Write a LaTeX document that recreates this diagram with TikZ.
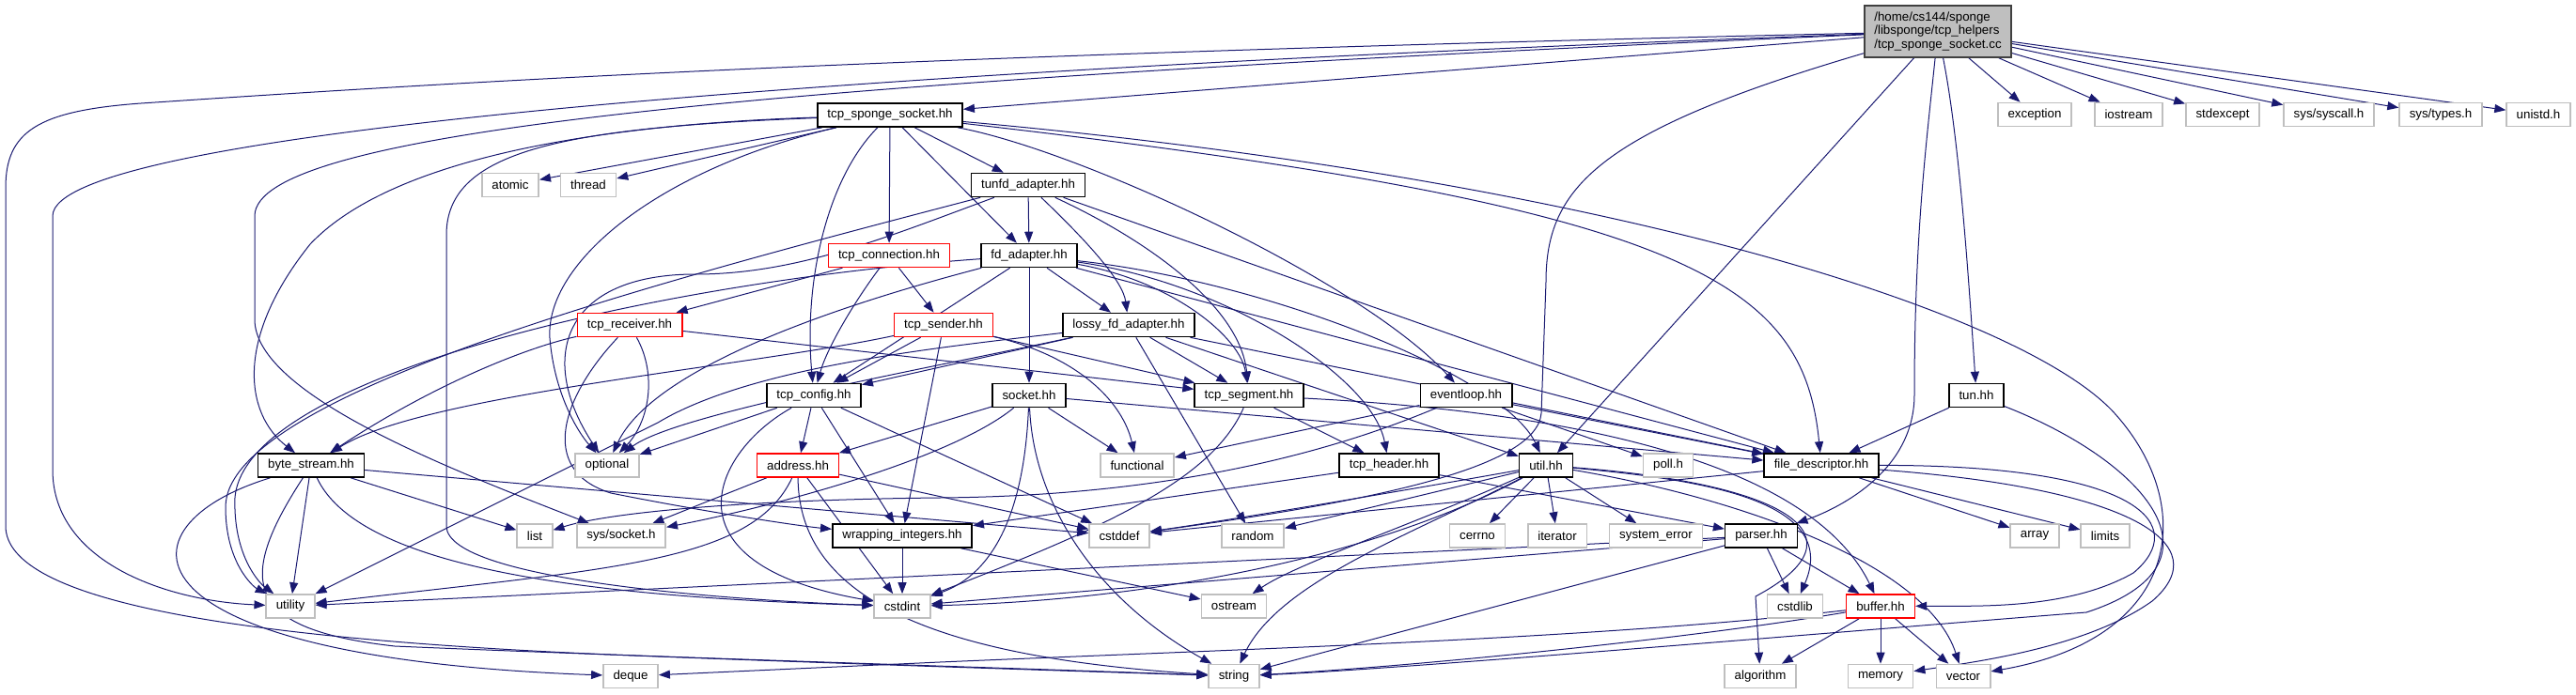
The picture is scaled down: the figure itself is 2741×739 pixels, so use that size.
\documentclass[tikz,border=0pt]{standalone}
\usepackage{fontspec}
\setmainfont{Liberation Sans}
\usepackage{xcolor}
\usepackage{tikz}
\usetikzlibrary{arrows.meta,backgrounds}
\definecolor{edgeblue}{HTML}{191970}

\begin{document}
\begin{tikzpicture}[
  x=0.5pt, y=-0.5pt,
  font=\fontsize{6.65}{7.15}\selectfont,
  >={Triangle[length=6pt,width=4.5pt]},
  file/.style={draw, fill=white, line width=0.8pt, inner xsep=5.3pt, inner ysep=1pt, minimum height=12.5pt},
  hdr/.style={file, draw=black},
  sys/.style={file, draw=lightgray},
  cut/.style={file, draw=red},
  root/.style={file, fill=lightgray, draw=black!75, align=left, inner ysep=3pt, minimum height=27.5pt},
  arr/.style={->, draw=edgeblue, line width=0.5pt}
]
\useasboundingbox (0,0) rectangle (2741,739);
\node[root] (cc) at (2062,33.5) {/home/cs144/sponge\\/libsponge/tcp\_helpers\\/tcp\_sponge\_socket.cc};
\node[hdr] (tss) at (947,122.5) {tcp\_sponge\_socket.hh};
\node[sys] (exc) at (2165,122) {exception};
\node[sys] (ios) at (2265,122) {iostream};
\node[sys] (stdexc) at (2365,122) {stdexcept};
\node[sys] (syscall) at (2478,122) {sys/syscall.h};
\node[sys] (systypes) at (2597,122) {sys/types.h};
\node[sys] (unistd) at (2701,122) {unistd.h};
\node[sys] (atomic) at (543,197) {atomic};
\node[sys] (thread) at (626,197) {thread};
\node[hdr] (tunfd) at (1094,197) {tunfd\_adapter.hh};
\node[cut] (tcpconn) at (946,272) {tcp\_connection.hh};
\node[hdr] (fdad) at (1095,272) {fd\_adapter.hh};
\node[cut] (tcprecv) at (670,346) {tcp\_receiver.hh};
\node[cut] (tcpsend) at (1004,346) {tcp\_sender.hh};
\node[hdr] (lossy) at (1201,346) {lossy\_fd\_adapter.hh};
\node[hdr] (tcpconf) at (866,421) {tcp\_config.hh};
\node[hdr] (sock) at (1095,421) {socket.hh};
\node[hdr] (tcpseg) at (1329,421) {tcp\_segment.hh};
\node[hdr] (evloop) at (1560,421) {eventloop.hh};
\node[hdr] (tun) at (2103,421) {tun.hh};
\node[hdr] (bstream) at (331,495.5) {byte\_stream.hh};
\node[sys] (optional) at (646,495.5) {optional};
\node[cut] (addr) at (849,495.5) {address.hh};
\node[sys] (functional) at (1210,495.5) {functional};
\node[hdr] (tcphdr) at (1478,495.5) {tcp\_header.hh};
\node[hdr] (util) at (1645,495.5) {util.hh};
\node[sys] (pollh) at (1775,495.5) {poll.h};
\node[hdr] (fdesc) at (1938,495.5) {file\_descriptor.hh};
\node[sys] (list) at (569,570.5) {list};
\node[sys] (syssock) at (661,570.5) {sys/socket.h};
\node[hdr] (wrapint) at (960,570.5) {wrapping\_integers.hh};
\node[sys] (cstddef) at (1191,570.5) {cstddef};
\node[sys] (random) at (1333,570.5) {random};
\node[sys] (cerrno) at (1572,570.5) {cerrno};
\node[sys] (iterator) at (1657,570.5) {iterator};
\node[sys] (syserr) at (1762,570.5) {system\_error};
\node[hdr] (parser) at (1874,570.5) {parser.hh};
\node[sys] (array) at (2165,570.5) {array};
\node[sys] (limits) at (2240,570.5) {limits};
\node[sys] (utility) at (309,645.5) {utility};
\node[sys] (cstdint) at (960,645.5) {cstdint};
\node[sys] (ostream) at (1313,645.5) {ostream};
\node[sys] (cstdlib) at (1910,645.5) {cstdlib};
\node[cut] (buffer) at (2001,645.5) {buffer.hh};
\node[sys] (deque) at (671,720) {deque};
\node[sys] (string) at (1313,720) {string};
\node[sys] (algorithm) at (1873,720) {algorithm};
\node[sys] (memory) at (2001,720) {memory};
\node[sys] (vector) at (2089,720) {vector};
\begin{scope}[on background layer]
\draw[arr] (cc) -- (tss);
\draw[arr] (cc) .. controls (900,60) and (450,90) .. (150,110) .. controls (40,118) and (6,140) .. (6,200) -- (6,560) .. controls (6,640) and (250,680) .. (650,697) .. controls (900,707) and (1100,713) .. (string);
\draw[arr] (cc) .. controls (900,75) and (56,140) .. (56,230) -- (56,500) .. controls (56,600) and (180,640) .. (utility);
\draw[arr] (cc) .. controls (800,88) and (271,140) .. (271,230) -- (271,340) .. controls (271,420) and (480,500) .. (syssock);
\draw[arr] (cc) .. controls (1700,140) and (1645,200) .. (1645,300) -- (1640,440) .. controls (1635,500) and (1450,535) .. (cstddef);
\draw[arr] (cc) -- (util);
\draw[arr] (cc) .. controls (2050,150) and (2037,250) .. (2037,420) .. controls (2037,500) and (1960,540) .. (parser);
\draw[arr] (cc) .. controls (2085,150) and (2095,300) .. (tun);
\draw[arr] (cc) -- (exc);
\draw[arr] (cc) -- (ios);
\draw[arr] (cc) -- (stdexc);
\draw[arr] (cc) -- (syscall);
\draw[arr] (cc) -- (systypes);
\draw[arr] (cc) -- (unistd);
\draw[arr] (tss) -- (atomic);
\draw[arr] (tss) -- (thread);
\draw[arr] (tss) -- (tunfd);
\draw[arr] (tss) -- (tcpconn);
\draw[arr] (tss) -- (fdad);
\draw[arr] (tss) .. controls (1150,160) and (1450,300) .. (evloop);
\draw[arr] (tss) .. controls (1800,220) and (1919,300) .. (fdesc);
\draw[arr] (tss) .. controls (1700,190) and (2150,330) .. (2250,440) .. controls (2340,540) and (2320,680) .. (vector);
\draw[arr] (tss) .. controls (650,132) and (420,165) .. (330,260) .. controls (250,360) and (260,440) .. (bstream);
\draw[arr] (tss) .. controls (600,136) and (475,160) .. (475,250) -- (475,560) .. controls (475,620) and (800,640) .. (cstdint);
\draw[arr] (tss) .. controls (700,180) and (580,280) .. (585,360) .. controls (590,420) and (615,460) .. (optional);
\draw[arr] (tss) .. controls (880,190) and (855,300) .. (tcpconf);
\draw[arr] (tunfd) -- (fdad);
\draw[arr] (tunfd) .. controls (1160,260) and (1195,300) .. (lossy);
\draw[arr] (tunfd) .. controls (1230,260) and (1320,330) .. (tcpseg);
\draw[arr] (tunfd) -- (fdesc);
\draw[arr] (tunfd) .. controls (700,300) and (240,420) .. (240,540) .. controls (240,600) and (270,625) .. (utility);
\draw[arr] (tunfd) .. controls (950,250) and (850,292) .. (740,292) .. controls (600,292) and (570,380) .. (optional);
\draw[arr] (tcpconn) -- (tcprecv);
\draw[arr] (tcpconn) -- (tcpsend);
\draw[arr] (tcpconn) .. controls (910,320) and (880,370) .. (tcpconf);
\draw[arr] (fdad) -- (lossy);
\draw[arr] (fdad) -- (sock);
\draw[arr] (fdad) -- (tcpconf);
\draw[arr] (fdad) .. controls (1250,300) and (1320,360) .. (tcpseg);
\draw[arr] (fdad) .. controls (1300,300) and (1460,400) .. (tcphdr);
\draw[arr] (fdad) .. controls (1350,300) and (1600,400) .. (util);
\draw[arr] (fdad) -- (fdesc);
\draw[arr] (fdad) .. controls (950,310) and (700,380) .. (optional);
\draw[arr] (fdad) .. controls (700,300) and (260,400) .. (250,530) .. controls (248,590) and (275,620) .. (utility);
\draw[arr] (tcprecv) .. controls (560,370) and (460,410) .. (bstream);
\draw[arr] (tcprecv) -- (tcpseg);
\draw[arr] (tcprecv) .. controls (700,400) and (690,450) .. (optional);
\draw[arr] (tcprecv) .. controls (600,420) and (570,500) .. (650,525) .. controls (750,545) and (850,560) .. (wrapint);
\draw[arr] (tcpsend) .. controls (800,390) and (450,420) .. (bstream);
\draw[arr] (tcpsend) -- (tcpconf);
\draw[arr] (tcpsend) -- (tcpseg);
\draw[arr] (tcpsend) -- (wrapint);
\draw[arr] (tcpsend) .. controls (1150,380) and (1195,430) .. (functional);
\draw[arr] (lossy) -- (tcpconf);
\draw[arr] (lossy) -- (tcpseg);
\draw[arr] (lossy) -- (random);
\draw[arr] (lossy) -- (util);
\draw[arr] (lossy) -- (fdesc);
\draw[arr] (lossy) .. controls (1000,390) and (720,440) .. (optional);
\draw[arr] (lossy) .. controls (1000,370) and (800,390) .. (700,450) -- (utility);
\draw[arr] (tcpconf) -- (optional);
\draw[arr] (tcpconf) -- (addr);
\draw[arr] (tcpconf) -- (wrapint);
\draw[arr] (tcpconf) -- (cstddef);
\draw[arr] (tcpconf) .. controls (760,480) and (700,600) .. (cstdint);
\draw[arr] (sock) -- (addr);
\draw[arr] (sock) -- (functional);
\draw[arr] (sock) -- (fdesc);
\draw[arr] (sock) .. controls (1090,540) and (1060,610) .. (cstdint);
\draw[arr] (sock) .. controls (1100,540) and (1170,640) .. (string);
\draw[arr] (sock) .. controls (1010,490) and (820,540) .. (syssock);
\draw[arr] (tcpseg) -- (tcphdr);
\draw[arr] (tcpseg) .. controls (1700,440) and (1930,500) .. (buffer);
\draw[arr] (tcpseg) .. controls (1290,510) and (1180,560) .. (cstdint);
\draw[arr] (evloop) -- (functional);
\draw[arr] (evloop) .. controls (1420,480) and (1250,528) .. (1000,530) .. controls (800,532) and (650,545) .. (list);
\draw[arr] (evloop) -- (pollh);
\draw[arr] (evloop) -- (fdesc);
\draw[arr] (tun) -- (fdesc);
\draw[arr] (tun) .. controls (2280,490) and (2380,600) .. (2220,652) .. controls (2050,665) and (1500,712) .. (string);
\draw[arr] (bstream) .. controls (120,560) and (120,700) .. (deque);
\draw[arr] (bstream) -- (utility);
\draw[arr] (bstream) .. controls (250,620) and (260,670) .. (420,688) .. controls (700,700) and (1100,712) .. (string);
\draw[arr] (bstream) .. controls (380,600) and (600,635) .. (cstdint);
\draw[arr] (bstream) -- (list);
\draw[arr] (bstream) -- (cstddef);
\draw[arr] (addr) -- (syssock);
\draw[arr] (addr) .. controls (800,600) and (650,605) .. (utility);
\draw[arr] (addr) -- (cstdint);
\draw[arr] (addr) .. controls (850,640) and (1000,700) .. (string);
\draw[arr] (addr) -- (cstddef);
\draw[arr] (tcphdr) -- (parser);
\draw[arr] (tcphdr) -- (wrapint);
\draw[arr] (util) .. controls (1450,530) and (1300,555) .. (cstddef);
\draw[arr] (util) -- (random);
\draw[arr] (util) .. controls (1450,600) and (1200,640) .. (cstdint);
\draw[arr] (util) .. controls (1500,560) and (1380,600) .. (ostream);
\draw[arr] (util) .. controls (1500,570) and (1360,620) .. (string);
\draw[arr] (util) -- (cerrno);
\draw[arr] (util) -- (iterator);
\draw[arr] (util) -- (syserr);
\draw[arr] (util) .. controls (1900,515) and (1990,570) .. (1868,635) -- (algorithm);
\draw[arr] (util) .. controls (1800,510) and (1960,530) .. (cstdlib);
\draw[arr] (util) .. controls (1850,530) and (2050,600) .. (vector);
\draw[arr] (fdesc) -- (array);
\draw[arr] (fdesc) -- (limits);
\draw[arr] (fdesc) -- (cstddef);
\draw[arr] (fdesc) .. controls (2280,495) and (2330,560) .. (2270,610) .. controls (2200,650) and (2100,645) .. (buffer);
\draw[arr] (fdesc) .. controls (2270,520) and (2360,580) .. (2290,640) .. controls (2220,690) and (2100,705) .. (memory);
\draw[arr] (wrapint) -- (cstdint);
\draw[arr] (wrapint) -- (ostream);
\draw[arr] (parser) -- (buffer);
\draw[arr] (parser) -- (cstdlib);
\draw[arr] (parser) -- (string);
\draw[arr] (parser) -- (utility);
\draw[arr] (parser) -- (cstdint);
\draw[arr] (buffer) -- (algorithm);
\draw[arr] (buffer) -- (memory);
\draw[arr] (buffer) -- (vector);
\draw[arr] (buffer) .. controls (1800,680) and (1500,710) .. (string);
\draw[arr] (buffer) .. controls (1700,680) and (1350,690) .. (1000,705) -- (deque);
\end{scope}
\end{tikzpicture}
\end{document}
